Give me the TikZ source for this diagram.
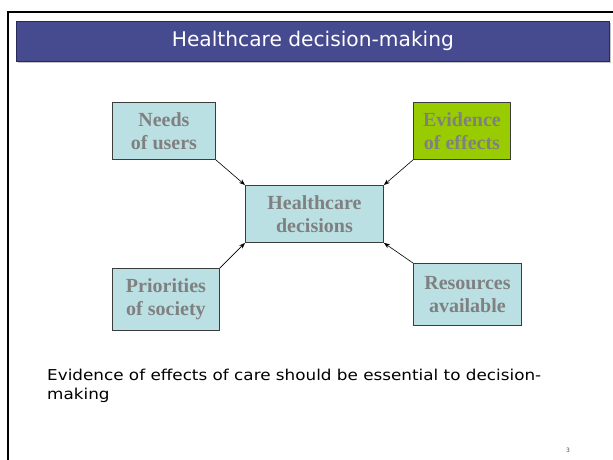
\documentclass[tikz,border=0pt]{standalone}
\usepackage{fontspec}
\setmainfont{Liberation Serif}
\newfontfamily\verd{DejaVu Sans}
\newfontfamily\verdwide[FakeStretch=1.12]{DejaVu Sans}
\usetikzlibrary{arrows.meta}
\definecolor{barblue}{RGB}{70,74,143}
\definecolor{baredge}{RGB}{40,42,90}
\definecolor{boxblue}{RGB}{187,224,227}
\definecolor{boxgreen}{RGB}{153,204,0}
\definecolor{txtgrey}{RGB}{128,128,128}
\definecolor{edgegrey}{RGB}{60,60,60}
\tikzset{
  card/.style={draw=edgegrey, line width=0.9pt, fill=boxblue, inner sep=0pt, align=center,
    text=txtgrey, font=\fontsize{20}{23}\selectfont\bfseries},
  link/.style={draw=black, line width=0.6pt, -{Stealth[length=6pt,width=4.5pt]}},
}
\begin{document}
\begin{tikzpicture}[x=1pt,y=-1pt]
\useasboundingbox (0,0) rectangle (613,459);
% slide frame
\draw[line width=2.2pt, black] (8,470) -- (8,12) -- (620,12);
% title bar
\fill[gray!45] (18,23) rectangle (611,63);
\node[draw=baredge, line width=0.8pt, fill=barblue, minimum width=593pt, minimum height=40pt, inner sep=0pt, anchor=north west,
  text=white, font=\verd\fontsize{20.2}{24}\selectfont] (title) at (16,21) {Healthcare decision-making};
% boxes
\node[card, minimum width=103pt, minimum height=57pt, anchor=north west] (needs) at (112,102) {Needs\\of users};
\node[card, fill=boxgreen, minimum width=97pt, minimum height=57pt, anchor=north west] (evid) at (413,102) {Evidence\\of effects};
\node[card, minimum width=138pt, minimum height=57pt, anchor=north west] (hc) at (245,185) {Healthcare\\decisions};
\node[card, minimum width=107pt, minimum height=62pt, anchor=north west] (prio) at (112,268) {Priorities\\of society};
\node[card, minimum width=108pt, minimum height=62pt, anchor=north west] (res) at (413,263) {Resources\\available};
% connectors
\draw[link] (needs.south east) -- (hc.north west);
\draw[link] (evid.south west) -- (hc.north east);
\draw[link] (prio.north east) -- (hc.south west);
\draw[link] (res.north west) -- (hc.south east);
% bottom text
\node[anchor=north west, inner sep=0pt, align=left, font=\verdwide\fontsize{15}{19}\selectfont] (note) at (47,368.5)
  {Evidence of effects of care should be essential to decision-\\making};
\node[inner sep=0pt, font=\verd\fontsize{6}{7}\selectfont, text=black!70] (pg) at (568,450) {3};
\end{tikzpicture}
\end{document}
